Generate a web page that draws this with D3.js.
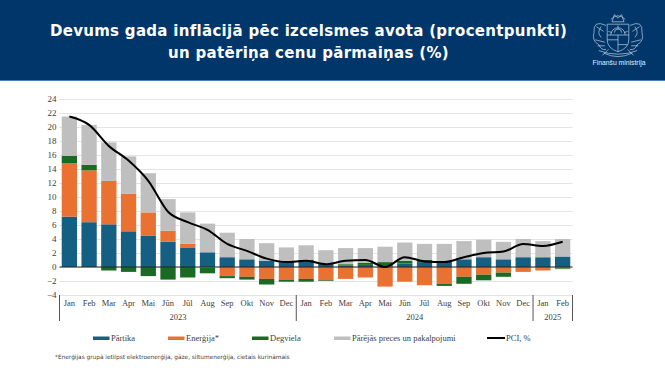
<!DOCTYPE html>
<html>
<head>
<meta charset="utf-8">
<script src="https://cdn.jsdelivr.net/npm/d3@7"></script>
<style>
  html, body { margin: 0; padding: 0; background: #fff; }
  svg { display: block; }
</style>
</head>
<body>
<div id="chart"></div>
<script>
// values
var months = ["Jan","Feb","Mar","Apr","Mai","Jūn","Jūl","Aug","Sep","Okt","Nov","Dec",
              "Jan","Feb","Mar","Apr","Mai","Jūn","Jūl","Aug","Sep","Okt","Nov","Dec",
              "Jan","Feb"];
var food   = [7.2,6.4,6.1,5.1,4.5,3.6,2.8,2.1,1.4,1.1,0.9,0.7,1.0,0.5,0.2,0.3,0.1,0.5,0.7,0.8,1.1,1.4,1.1,1.4,1.3,1.5];
var energy = [7.6,7.4,6.2,5.4,3.3,1.6,0.5,-0.1,-1.3,-1.4,-1.7,-1.8,-1.7,-1.9,-1.7,-1.5,-2.8,-2.1,-2.6,-2.4,-1.4,-1.1,-0.8,-0.7,-0.5,-0.2];
var fuel   = [1.1,0.8,-0.5,-0.7,-1.3,-1.8,-1.5,-0.8,-0.3,-0.4,-0.8,-0.3,-0.4,-0.1,0.2,0.3,0.6,0.4,0.3,-0.3,-1.0,-0.8,-0.6,0.0,0.1,-0.1];
var other  = [5.6,5.7,5.5,5.3,5.6,4.5,4.5,4.1,3.5,2.9,2.5,2.1,2.1,1.9,2.3,2.1,2.2,2.6,2.3,2.5,2.6,2.5,2.5,2.6,2.3,2.5];
var pci    = [21.5,20.3,17.3,15.2,12.3,7.9,6.4,5.3,3.3,2.3,1.2,0.7,0.9,0.4,0.9,1.0,0.0,1.4,0.8,0.7,1.4,2.0,2.2,3.3,3.0,3.6];
var yTicks = d3.range(-4, 25, 2);
var years = [{label: "2023", n: 12}, {label: "2024", n: 12}, {label: "2025", n: 2}];

var seriesNames = ["Pārtika", "Enerģija*", "Degviela", "Pārējās preces un pakalpojumi"];
var seriesKeys = ["food", "energy", "fuel", "other"];
var seriesColors = ["#156082", "#e97132", "#196b24", "#bfbfbf"];
var serif = "'Liberation Serif', serif";
var textcolor = "#404040";

var width = 665, height = 375;
var svg = d3.select("#chart").append("svg")
    .attr("width", width)
    .attr("height", height);

////////////
// header //
////////////
svg.append("rect").attr("width", width).attr("height", 80).attr("fill", "#00366a");
svg.append("rect").attr("y", 80).attr("width", width).attr("height", 1).attr("fill", "#4f7fa8");

var titleLines = ["Devums gada inflācijā pēc izcelsmes avota (procentpunkti)", "un patēriņa cenu pārmaiņas (%)"];
svg.selectAll("text.title")
    .data(titleLines)
    .enter()
    .append("text")
    .attr("class", "title")
    .attr("x", 308.5)
    .attr("y", function(d, i) { return 35.5 + i * 22; })
    .attr("text-anchor", "middle")
    .attr("fill", "#fff")
    .style("font", "bold 15px 'DejaVu Sans', sans-serif")
    .style("letter-spacing", "0.3px")
    .text(function(d) { return d; });

// rough coat of arms
var crest = svg.append("g")
    .attr("transform", "translate(618,35) scale(1.2)")
    .attr("fill", "none")
    .attr("stroke", "#b9cadc")
    .attr("stroke-width", 0.6);
crest.append("path").attr("d", "M-9,-9 L9,-9 L9,4 Q9,11 0,14 Q-9,11 -9,4 Z");
crest.append("path").attr("d", "M-6,0 A6,6 0 0 1 6,0 M-9,0 L9,0 M0,0 L0,14 M-9,4 L0,4 M0,8 L8,8");
crest.append("path").attr("d", "M-3,-2 A3,3 0 0 1 3,-2 M-8,-3 L-5,-2 M8,-3 L5,-2 M0,-8 L0,-5");
crest.append("path").attr("d", "M-5,-11 L-3,-17 L0,-14 L3,-17 L5,-11 Z M-6,-13 Q0,-19 6,-13");
crest.append("path").attr("d", "M-10,-8 Q-21,-13 -20,-2 Q-22,5 -16,8 Q-14,13 -10,12 M-14,-7 Q-18,-2 -14,2 M-19,4 L-11,6 M-18,-7 L-12,-3 M-17,9 L-11,9");
crest.append("path").attr("d", "M10,-8 Q21,-13 20,-2 Q22,5 16,8 Q14,13 10,12 M14,-7 Q18,-2 14,2 M19,4 L11,6 M18,-7 L12,-3 M17,9 L11,9");
crest.append("path").attr("d", "M-16,13 Q0,19 16,13 M-12,15 Q0,21 12,15 M-8,12 L-13,17 M8,12 L13,17");

svg.append("text")
    .attr("x", 619).attr("y", 64.5)
    .attr("text-anchor", "middle")
    .attr("fill", "#e8eef5")
    .style("font", "6.8px 'Liberation Sans', sans-serif")
    .text("Finanšu ministrija");

///////////
// scales //
///////////
var x = d3.scaleBand()
    .domain(d3.range(months.length))
    .range([59.5, 572.5])
    .paddingInner(0.225)
    .paddingOuter(0.1125);

var y = d3.scaleLinear().domain([-4, 24]).range([295, 99]);

// gridlines and y labels come from the axis
var yAxis = svg.append("g")
    .attr("transform", "translate(59.5,0)")
    .call(d3.axisLeft(y).tickValues(yTicks).tickSize(-513).tickPadding(3));
yAxis.select(".domain").remove();
yAxis.selectAll("line").attr("stroke", "#e4e4e4").attr("stroke-width", 1.2);
yAxis.selectAll("text")
    .attr("fill", textcolor)
    .style("font", "9px " + serif);

//////////////////
// stacked bars //
//////////////////
var rows = months.map(function(m, i) {
    return { i: i, food: food[i], energy: energy[i], fuel: fuel[i], other: other[i] };
});
var stack = d3.stack().keys(seriesKeys).offset(d3.stackOffsetDiverging);

svg.selectAll("g.series")
    .data(stack(rows))
    .enter()
    .append("g")
    .attr("class", "series")
    .attr("fill", function(d, i) { return seriesColors[i]; })
    .selectAll("rect")
    .data(function(d) { return d; })
    .enter()
    .append("rect")
    .attr("x", function(d) { return x(d.data.i); })
    .attr("width", x.bandwidth())
    .attr("y", function(d) { return y(Math.max(d[0], d[1])); })
    .attr("height", function(d) { return Math.abs(y(d[0]) - y(d[1])); });

// zero line
svg.append("line")
    .attr("x1", 59.5).attr("x2", 572.5)
    .attr("y1", y(0)).attr("y2", y(0))
    .attr("stroke", "#222")
    .attr("stroke-width", 1);

// PCI line
var line = d3.line()
    .curve(d3.curveMonotoneX)
    .x(function(d, i) { return x(i) + x.bandwidth() / 2; })
    .y(function(d) { return y(d); });

svg.append("path")
    .datum(pci)
    .attr("d", line)
    .attr("fill", "none")
    .attr("stroke", "#000")
    .attr("stroke-width", 2);

////////////
// x axis //
////////////
svg.selectAll("text.month")
    .data(months)
    .enter()
    .append("text")
    .attr("class", "month")
    .attr("x", function(d, i) { return x(i) + x.bandwidth() / 2; })
    .attr("y", 306)
    .attr("text-anchor", "middle")
    .attr("fill", textcolor)
    .style("font", "8.5px " + serif)
    .text(function(d) { return d; });

var step = x.step();
var start = 0;
years.forEach(function(yr) {
    var x0 = 59.5 + start * step;
    var x1 = 59.5 + (start + yr.n) * step;
    svg.append("text")
        .attr("x", (x0 + x1) / 2)
        .attr("y", 320)
        .attr("text-anchor", "middle")
        .attr("fill", textcolor)
        .style("font", "8.5px " + serif)
        .text(yr.label);
    svg.append("line")
        .attr("x1", x0).attr("x2", x0)
        .attr("y1", 295).attr("y2", 321)
        .attr("stroke", "#555").attr("stroke-width", 1);
    start += yr.n;
});
svg.append("line")
    .attr("x1", 572.5).attr("x2", 572.5)
    .attr("y1", 295).attr("y2", 321)
    .attr("stroke", "#555").attr("stroke-width", 1);

////////////
// legend //
////////////
var legendX = [93, 168, 252, 334];
seriesNames.forEach(function(name, i) {
    svg.append("rect")
        .attr("x", legendX[i]).attr("y", 336.5)
        .attr("width", 16.5).attr("height", 3.5)
        .attr("fill", seriesColors[i]);
    svg.append("text")
        .attr("x", legendX[i] + 18).attr("y", 341)
        .attr("fill", textcolor)
        .style("font", "8.5px " + serif)
        .text(name);
});
svg.append("line")
    .attr("x1", 487).attr("x2", 505)
    .attr("y1", 338).attr("y2", 338)
    .attr("stroke", "#000").attr("stroke-width", 2);
svg.append("text")
    .attr("x", 506).attr("y", 341)
    .attr("fill", textcolor)
    .style("font", "8.5px " + serif)
    .text("PCI, %");

// footnote
svg.append("text")
    .attr("x", 55).attr("y", 359)
    .attr("fill", textcolor)
    .style("font", "5.8px 'DejaVu Sans', sans-serif")
    .text("*Enerģijas grupā ietilpst elektroenerģija, gāze, siltumenerģija, cietais kurināmais");
</script>
</body>
</html>
